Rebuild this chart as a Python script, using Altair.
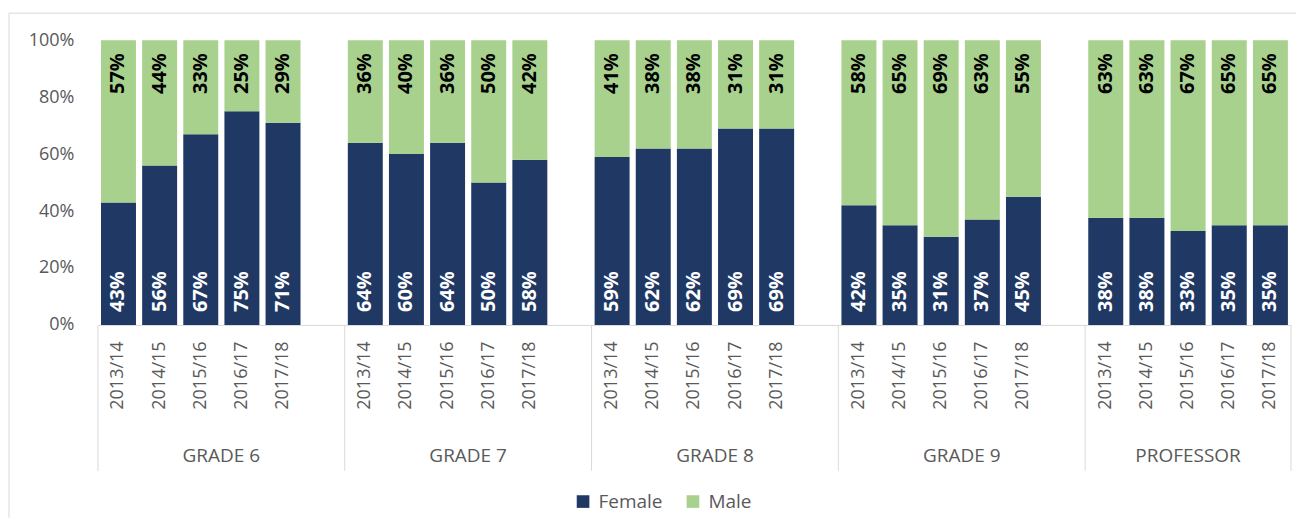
import altair as alt
import pandas as pd

groups = ["GRADE 6", "GRADE 7", "GRADE 8", "GRADE 9", "PROFESSOR"]
years = ["2013/14", "2014/15", "2015/16", "2016/17", "2017/18"]

female_g6 = [43, 56, 67, 75, 71]
female_g7 = [64, 60, 64, 50, 58]
female_g8 = [59, 62, 62, 69, 69]
female_g9 = [42, 35, 31, 37, 45]
female_prof = [38, 38, 33, 35, 35]

male_g6 = [57, 44, 33, 25, 29]
male_g7 = [36, 40, 36, 50, 42]
male_g8 = [41, 38, 38, 31, 31]
male_g9 = [58, 65, 69, 63, 55]
male_prof = [63, 63, 67, 65, 65]

female = [female_g6, female_g7, female_g8, female_g9, female_prof]
male = [male_g6, male_g7, male_g8, male_g9, male_prof]

rows = []
for gi, g in enumerate(groups):
    for yi, y in enumerate(years):
        rows.append({"group": g, "year": y, "sex": "Female", "ord": 0,
                     "value": female[gi][yi], "label": f"{female[gi][yi]}%"})
        rows.append({"group": g, "year": y, "sex": "Male", "ord": 1,
                     "value": male[gi][yi], "label": f"{male[gi][yi]}%"})
df = pd.DataFrame(rows)

FONT = "Open Sans"
GRAY = "#595959"
LINE = "#D9D9D9"
H = 285
W_GRADE = 247
W_LAST = 206

color = alt.Color(
    "sex:N",
    scale=alt.Scale(domain=["Female", "Male"], range=["#203864", "#A9D18E"]),
    legend=alt.Legend(orient="none", legendX=476, legendY=452, direction="horizontal",
                      title=None, symbolType="square",
                      symbolSize=160, symbolStrokeWidth=0, labelFontSize=19,
                      labelColor=GRAY, labelFont=FONT, columnPadding=20,
                      labelOffset=6),
)


def panel(g, w, first, last):
    d = df[df["group"] == g]
    dom = years if last else years + [" "]
    xenc = alt.X(
        "year:N",
        scale=alt.Scale(domain=dom, paddingInner=0.15, paddingOuter=0.075),
        axis=alt.Axis(labelAngle=270, labelFontSize=18, labelColor=GRAY,
                      labelFont=FONT, ticks=False, domainColor=LINE,
                      labelPadding=16, title=None),
    )
    yaxis = alt.Axis(values=[0, 0.2, 0.4, 0.6, 0.8, 1.0], format=".0%",
                     labelFontSize=18, labelColor=GRAY, labelFont=FONT,
                     ticks=False, domain=False, grid=False, labelPadding=24,
                     title=None) if first else None
    base = alt.Chart(d)
    bars = base.mark_bar().encode(
        x=xenc,
        y=alt.Y("value:Q", stack="normalize", scale=alt.Scale(domain=[0, 1]),
                axis=yaxis),
        color=color,
        order=alt.Order("ord:Q"),
    )
    ftxt = base.transform_filter(alt.datum.sex == "Female").mark_text(
        angle=270, align="left", baseline="middle", fontWeight="bold",
        fontSize=20, color="white", font=FONT
    ).encode(x=alt.X("year:N"), y=alt.value(H - 13), text="label:N")
    mtxt = base.transform_filter(alt.datum.sex == "Male").mark_text(
        angle=270, align="right", baseline="middle", fontWeight="bold",
        fontSize=20, color="black", font=FONT
    ).encode(x=alt.X("year:N"), y=alt.value(13), text="label:N")
    gdf = pd.DataFrame({"g": [g]})
    rule_l = alt.Chart(gdf).mark_rule(color=LINE, strokeWidth=1).encode(
        x=alt.value(0), y=alt.value(H), y2=alt.value(H + 146))
    gtxt = alt.Chart(gdf).mark_text(
        fontSize=19, color=GRAY, font=FONT, baseline="middle", align="center"
    ).encode(x=alt.value(w / 2), y=alt.value(H + 131), text="g:N")
    layers = [bars, ftxt, mtxt, rule_l, gtxt]
    if first:
        # outer chart-area border (top and left edges)
        border_top = alt.Chart(gdf).mark_rule(color=LINE, strokeWidth=1).encode(
            x=alt.value(-89), x2=alt.value(1199), y=alt.value(-27))
        border_left = alt.Chart(gdf).mark_rule(color=LINE, strokeWidth=1).encode(
            x=alt.value(-89), y=alt.value(-27), y2=alt.value(478))
        layers += [border_top, border_left]
    if last:
        rule_r = alt.Chart(gdf).mark_rule(color=LINE, strokeWidth=1).encode(
            x=alt.value(w), y=alt.value(H), y2=alt.value(H + 146))
        layers.append(rule_r)
    return alt.layer(*layers).properties(width=w, height=H)


panels = []
for i, g in enumerate(groups):
    last = i == len(groups) - 1
    panels.append(panel(g, W_LAST if last else W_GRADE, i == 0, last))

chart = alt.hconcat(*panels, spacing=0, bounds="flush").properties(
    padding={"top": 4, "left": 0, "right": 0, "bottom": 0},
    background="white",
).configure_view(stroke=None)

chart.save("out.html", embed_options={"renderer": "svg", "actions": False})
